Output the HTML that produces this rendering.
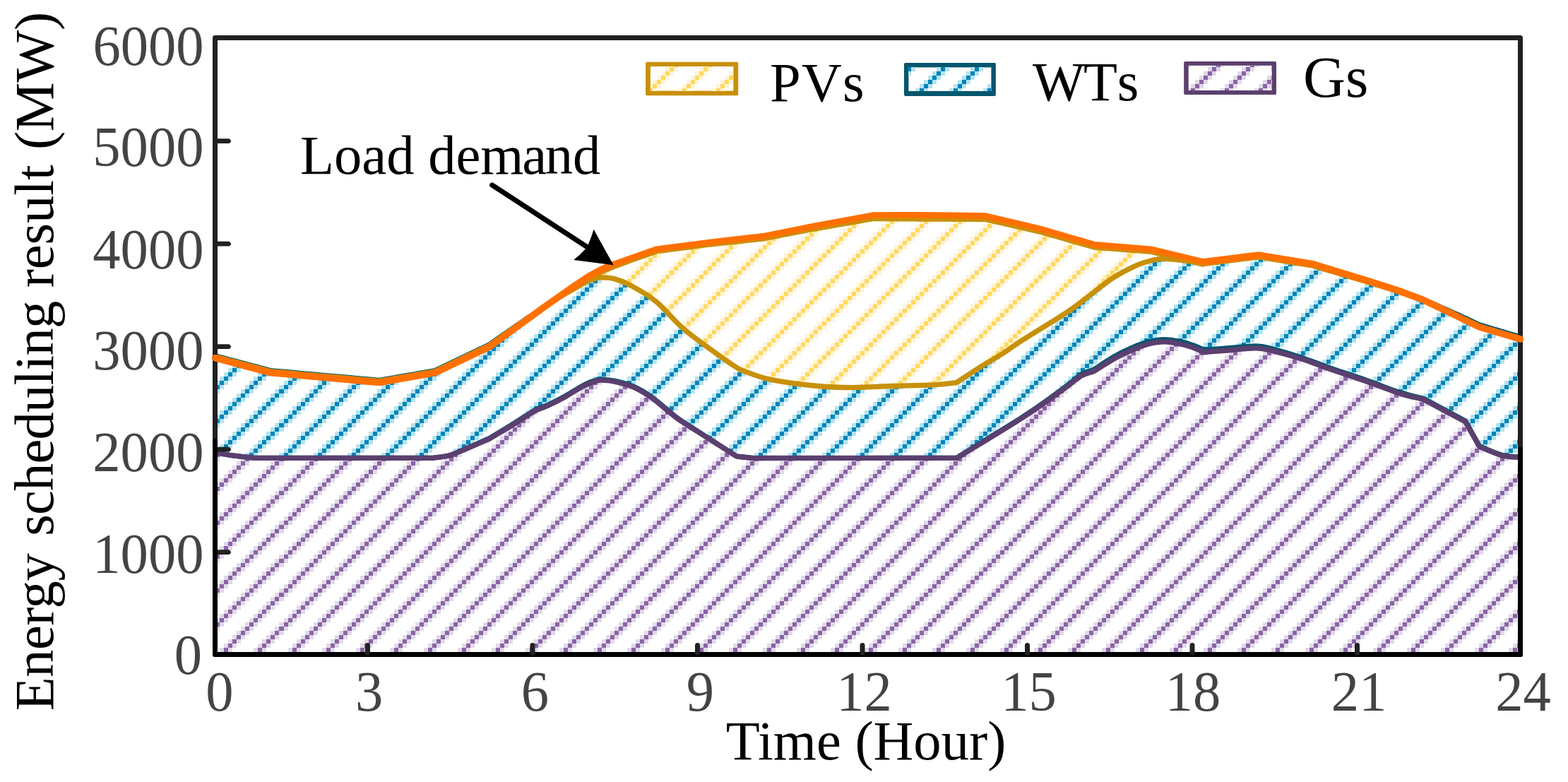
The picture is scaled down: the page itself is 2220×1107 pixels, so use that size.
<!DOCTYPE html>
<html lang="en">
<head>
<meta charset="utf-8">
<title>Energy scheduling result</title>
<style>
html,body{margin:0;padding:0;background:#fff;}
body{width:2220px;height:1107px;overflow:hidden;}
svg{display:block;}
</style>
</head>
<body>
<svg width="2220" height="1107" viewBox="0 0 2220 1107" role="img" aria-label="Energy scheduling result over 24 hours">
<defs>
<pattern id="hp" x="0" y="5" width="48" height="48" patternUnits="userSpaceOnUse">
<rect x="24" y="0" width="6" height="6" fill="#E1D9E9"/><rect x="30" y="0" width="6" height="6" fill="#8A64A6"/><rect x="36" y="0" width="6" height="6" fill="#E1D9E9"/>
<rect x="18" y="6" width="6" height="6" fill="#E1D9E9"/><rect x="24" y="6" width="6" height="6" fill="#8A64A6"/><rect x="30" y="6" width="6" height="6" fill="#E1D9E9"/>
<rect x="12" y="12" width="6" height="6" fill="#E1D9E9"/><rect x="18" y="12" width="6" height="6" fill="#8A64A6"/><rect x="24" y="12" width="6" height="6" fill="#E1D9E9"/>
<rect x="6" y="18" width="6" height="6" fill="#E1D9E9"/><rect x="12" y="18" width="6" height="6" fill="#8A64A6"/><rect x="18" y="18" width="6" height="6" fill="#E1D9E9"/>
<rect x="0" y="24" width="6" height="6" fill="#E1D9E9"/><rect x="6" y="24" width="6" height="6" fill="#8A64A6"/><rect x="12" y="24" width="6" height="6" fill="#E1D9E9"/>
<rect x="0" y="30" width="6" height="6" fill="#8A64A6"/><rect x="6" y="30" width="6" height="6" fill="#E1D9E9"/><rect x="42" y="30" width="6" height="6" fill="#E1D9E9"/>
<rect x="0" y="36" width="6" height="6" fill="#E1D9E9"/><rect x="36" y="36" width="6" height="6" fill="#E1D9E9"/><rect x="42" y="36" width="6" height="6" fill="#8A64A6"/>
<rect x="30" y="42" width="6" height="6" fill="#E1D9E9"/><rect x="36" y="42" width="6" height="6" fill="#8A64A6"/><rect x="42" y="42" width="6" height="6" fill="#E1D9E9"/>
</pattern>

<pattern id="hb" x="0" y="5" width="48" height="48" patternUnits="userSpaceOnUse">
<rect x="24" y="0" width="6" height="6" fill="#B4E3EF"/><rect x="30" y="0" width="6" height="6" fill="#0484B9"/><rect x="36" y="0" width="6" height="6" fill="#B4E3EF"/>
<rect x="18" y="6" width="6" height="6" fill="#B4E3EF"/><rect x="24" y="6" width="6" height="6" fill="#0484B9"/><rect x="30" y="6" width="6" height="6" fill="#B4E3EF"/>
<rect x="12" y="12" width="6" height="6" fill="#B4E3EF"/><rect x="18" y="12" width="6" height="6" fill="#0484B9"/><rect x="24" y="12" width="6" height="6" fill="#B4E3EF"/>
<rect x="6" y="18" width="6" height="6" fill="#B4E3EF"/><rect x="12" y="18" width="6" height="6" fill="#0484B9"/><rect x="18" y="18" width="6" height="6" fill="#B4E3EF"/>
<rect x="0" y="24" width="6" height="6" fill="#B4E3EF"/><rect x="6" y="24" width="6" height="6" fill="#0484B9"/><rect x="12" y="24" width="6" height="6" fill="#B4E3EF"/>
<rect x="0" y="30" width="6" height="6" fill="#0484B9"/><rect x="6" y="30" width="6" height="6" fill="#B4E3EF"/><rect x="42" y="30" width="6" height="6" fill="#B4E3EF"/>
<rect x="0" y="36" width="6" height="6" fill="#B4E3EF"/><rect x="36" y="36" width="6" height="6" fill="#B4E3EF"/><rect x="42" y="36" width="6" height="6" fill="#0484B9"/>
<rect x="30" y="42" width="6" height="6" fill="#B4E3EF"/><rect x="36" y="42" width="6" height="6" fill="#0484B9"/><rect x="42" y="42" width="6" height="6" fill="#B4E3EF"/>
</pattern>

<pattern id="hy" x="0" y="5" width="48" height="48" patternUnits="userSpaceOnUse">
<rect x="24" y="0" width="6" height="6" fill="#FFF4D9"/><rect x="30" y="0" width="6" height="6" fill="#FFD85E"/><rect x="36" y="0" width="6" height="6" fill="#FFF4D9"/>
<rect x="18" y="6" width="6" height="6" fill="#FFF4D9"/><rect x="24" y="6" width="6" height="6" fill="#FFD85E"/><rect x="30" y="6" width="6" height="6" fill="#FFF4D9"/>
<rect x="12" y="12" width="6" height="6" fill="#FFF4D9"/><rect x="18" y="12" width="6" height="6" fill="#FFD85E"/><rect x="24" y="12" width="6" height="6" fill="#FFF4D9"/>
<rect x="6" y="18" width="6" height="6" fill="#FFF4D9"/><rect x="12" y="18" width="6" height="6" fill="#FFD85E"/><rect x="18" y="18" width="6" height="6" fill="#FFF4D9"/>
<rect x="0" y="24" width="6" height="6" fill="#FFF4D9"/><rect x="6" y="24" width="6" height="6" fill="#FFD85E"/><rect x="12" y="24" width="6" height="6" fill="#FFF4D9"/>
<rect x="0" y="30" width="6" height="6" fill="#FFD85E"/><rect x="6" y="30" width="6" height="6" fill="#FFF4D9"/><rect x="42" y="30" width="6" height="6" fill="#FFF4D9"/>
<rect x="0" y="36" width="6" height="6" fill="#FFF4D9"/><rect x="36" y="36" width="6" height="6" fill="#FFF4D9"/><rect x="42" y="36" width="6" height="6" fill="#FFD85E"/>
<rect x="30" y="42" width="6" height="6" fill="#FFF4D9"/><rect x="36" y="42" width="6" height="6" fill="#FFD85E"/><rect x="42" y="42" width="6" height="6" fill="#FFF4D9"/>
</pattern>

<pattern id="hpL" x="-1" y="5" width="48" height="48" patternUnits="userSpaceOnUse">
<rect x="24" y="0" width="6" height="6" fill="#E1D9E9"/><rect x="30" y="0" width="6" height="6" fill="#8A64A6"/><rect x="36" y="0" width="6" height="6" fill="#E1D9E9"/>
<rect x="18" y="6" width="6" height="6" fill="#E1D9E9"/><rect x="24" y="6" width="6" height="6" fill="#8A64A6"/><rect x="30" y="6" width="6" height="6" fill="#E1D9E9"/>
<rect x="12" y="12" width="6" height="6" fill="#E1D9E9"/><rect x="18" y="12" width="6" height="6" fill="#8A64A6"/><rect x="24" y="12" width="6" height="6" fill="#E1D9E9"/>
<rect x="6" y="18" width="6" height="6" fill="#E1D9E9"/><rect x="12" y="18" width="6" height="6" fill="#8A64A6"/><rect x="18" y="18" width="6" height="6" fill="#E1D9E9"/>
<rect x="0" y="24" width="6" height="6" fill="#E1D9E9"/><rect x="6" y="24" width="6" height="6" fill="#8A64A6"/><rect x="12" y="24" width="6" height="6" fill="#E1D9E9"/>
<rect x="0" y="30" width="6" height="6" fill="#8A64A6"/><rect x="6" y="30" width="6" height="6" fill="#E1D9E9"/><rect x="42" y="30" width="6" height="6" fill="#E1D9E9"/>
<rect x="0" y="36" width="6" height="6" fill="#E1D9E9"/><rect x="36" y="36" width="6" height="6" fill="#E1D9E9"/><rect x="42" y="36" width="6" height="6" fill="#8A64A6"/>
<rect x="30" y="42" width="6" height="6" fill="#E1D9E9"/><rect x="36" y="42" width="6" height="6" fill="#8A64A6"/><rect x="42" y="42" width="6" height="6" fill="#E1D9E9"/>
</pattern>

<pattern id="hbL" x="-1" y="5" width="48" height="48" patternUnits="userSpaceOnUse">
<rect x="24" y="0" width="6" height="6" fill="#B4E3EF"/><rect x="30" y="0" width="6" height="6" fill="#0484B9"/><rect x="36" y="0" width="6" height="6" fill="#B4E3EF"/>
<rect x="18" y="6" width="6" height="6" fill="#B4E3EF"/><rect x="24" y="6" width="6" height="6" fill="#0484B9"/><rect x="30" y="6" width="6" height="6" fill="#B4E3EF"/>
<rect x="12" y="12" width="6" height="6" fill="#B4E3EF"/><rect x="18" y="12" width="6" height="6" fill="#0484B9"/><rect x="24" y="12" width="6" height="6" fill="#B4E3EF"/>
<rect x="6" y="18" width="6" height="6" fill="#B4E3EF"/><rect x="12" y="18" width="6" height="6" fill="#0484B9"/><rect x="18" y="18" width="6" height="6" fill="#B4E3EF"/>
<rect x="0" y="24" width="6" height="6" fill="#B4E3EF"/><rect x="6" y="24" width="6" height="6" fill="#0484B9"/><rect x="12" y="24" width="6" height="6" fill="#B4E3EF"/>
<rect x="0" y="30" width="6" height="6" fill="#0484B9"/><rect x="6" y="30" width="6" height="6" fill="#B4E3EF"/><rect x="42" y="30" width="6" height="6" fill="#B4E3EF"/>
<rect x="0" y="36" width="6" height="6" fill="#B4E3EF"/><rect x="36" y="36" width="6" height="6" fill="#B4E3EF"/><rect x="42" y="36" width="6" height="6" fill="#0484B9"/>
<rect x="30" y="42" width="6" height="6" fill="#B4E3EF"/><rect x="36" y="42" width="6" height="6" fill="#0484B9"/><rect x="42" y="42" width="6" height="6" fill="#B4E3EF"/>
</pattern>

<clipPath id="cl"><rect x="0" y="0" width="396" height="1107"/></clipPath>
<clipPath id="cr"><rect x="396" y="0" width="1824" height="1107"/></clipPath>
</defs>
<rect width="2220" height="1107" fill="#fff"/>
<g shape-rendering="crispEdges" stroke="none" clip-path="url(#cr)">
<polygon points="304.5,926.5 304.5,640.2 308.4,641.0 312.2,641.7 316.0,642.5 319.9,643.3 324.0,644.0 328.5,644.7 333.4,645.4 338.7,646.0 344.2,646.6 349.9,647.1 355.5,647.7 361.0,648.3 403.0,648.3 445.0,648.3 487.0,648.3 529.0,648.3 571.0,648.3 613.0,648.3 616.9,647.8 620.7,647.3 624.6,646.9 628.5,646.4 632.4,645.7 636.3,644.7 640.2,643.5 644.1,642.1 647.9,640.5 651.9,638.8 656.2,636.9 660.7,635.0 665.6,632.9 670.9,630.7 676.4,628.3 682.1,625.9 687.7,623.5 693.2,621.1 698.6,617.9 704.0,614.6 709.4,611.4 714.9,608.2 720.3,604.9 725.7,601.6 731.3,598.1 737.1,594.4 743.0,590.6 748.6,587.1 753.7,583.9 758.2,581.3 761.4,579.7 764.0,578.6 766.4,577.8 768.8,577.0 771.4,576.1 774.5,574.8 778.1,573.1 782.0,571.2 786.2,569.2 790.5,567.1 794.7,564.8 798.9,562.6 803.1,560.2 807.3,557.6 811.6,555.0 815.8,552.4 819.7,550.0 823.3,548.0 826.5,546.3 829.5,544.8 832.2,543.6 834.8,542.5 837.2,541.6 839.5,540.7 841.6,539.9 843.3,539.3 844.9,538.8 846.6,538.5 848.5,538.3 850.9,538.2 853.8,538.3 857.1,538.5 860.6,538.8 864.4,539.3 868.2,539.9 872.0,540.7 875.9,541.6 879.9,542.5 884.0,543.6 888.1,544.9 892.3,546.4 896.4,548.0 900.5,549.9 904.5,551.9 908.6,554.1 912.7,556.5 916.7,559.1 920.8,561.8 925.0,564.8 929.2,568.1 933.5,571.6 937.7,575.1 941.6,578.4 945.2,581.3 948.2,583.8 950.7,585.9 953.0,587.8 955.3,589.8 958.0,591.9 961.5,594.3 966.7,597.7 972.8,601.6 979.5,605.9 986.6,610.3 993.7,614.8 1000.7,619.2 1007.6,623.6 1014.5,628.0 1021.6,632.5 1028.7,637.0 1035.8,641.5 1042.9,646.0 1046.7,646.4 1050.5,646.8 1054.3,647.2 1058.1,647.7 1061.9,648.1 1065.7,648.5 1113.8,648.5 1162.0,648.4 1210.1,648.4 1258.2,648.4 1306.4,648.3 1354.5,648.3 1361.6,644.0 1368.7,639.8 1375.7,635.6 1382.8,631.3 1390.1,626.9 1397.6,622.3 1405.6,617.4 1414.0,612.3 1422.6,607.0 1431.1,601.8 1439.1,596.8 1446.3,592.2 1452.7,588.1 1458.4,584.3 1463.6,580.8 1468.6,577.3 1473.7,573.9 1478.9,570.2 1484.5,566.3 1490.2,562.2 1496.0,558.0 1501.5,553.9 1506.7,550.1 1511.4,546.7 1515.4,543.6 1518.9,540.8 1522.1,538.3 1525.0,536.0 1527.9,533.9 1530.9,532.0 1534.0,530.4 1537.0,529.2 1540.0,528.2 1542.9,527.4 1545.8,526.5 1548.8,525.5 1553.4,522.6 1558.1,519.7 1562.8,516.7 1567.4,513.8 1572.0,511.1 1576.4,508.5 1580.7,506.2 1584.8,504.0 1588.8,501.9 1592.8,500.0 1596.8,498.1 1600.8,496.3 1604.9,494.6 1609.0,492.9 1613.1,491.2 1617.2,489.8 1621.2,488.4 1625.2,487.3 1629.1,486.3 1632.9,485.5 1636.8,484.8 1640.6,484.3 1644.4,484.0 1648.3,483.9 1652.4,484.0 1656.6,484.4 1660.9,485.0 1665.1,485.7 1669.1,486.5 1672.7,487.2 1675.9,487.9 1678.7,488.6 1681.3,489.4 1683.7,490.2 1686.2,491.1 1688.8,492.0 1691.5,493.0 1694.2,494.0 1696.9,495.1 1699.6,496.3 1702.3,497.4 1705.0,498.5 1710.3,498.1 1715.6,497.7 1720.8,497.4 1726.1,497.0 1731.7,496.6 1737.6,496.1 1744.1,495.5 1751.1,494.8 1758.4,494.0 1765.6,493.4 1772.3,492.9 1778.2,492.8 1783.0,493.0 1786.9,493.3 1790.4,493.9 1793.9,494.7 1797.8,495.7 1802.6,496.9 1808.4,498.3 1815.0,500.0 1821.9,501.9 1829.1,504.0 1836.3,506.1 1843.3,508.3 1850.0,510.5 1856.5,512.9 1863.1,515.3 1869.8,517.8 1876.7,520.3 1883.9,522.9 1891.5,525.5 1899.5,528.1 1907.7,530.8 1916.0,533.6 1924.4,536.4 1932.7,539.2 1941.2,542.2 1949.9,545.4 1958.7,548.7 1967.2,551.9 1975.3,554.8 1982.6,557.2 1989.0,559.1 1994.7,560.6 1999.9,561.9 2004.9,563.0 2009.9,564.1 2015.1,565.3 2025.0,570.6 2035.0,575.9 2044.9,581.1 2054.8,586.4 2064.8,591.7 2074.7,597.0 2078.0,602.9 2081.3,608.8 2084.6,614.6 2088.0,620.5 2091.3,626.4 2094.6,632.3 2100.1,634.5 2105.7,636.9 2111.3,639.2 2116.8,641.4 2122.1,643.4 2127.1,644.9 2131.7,645.9 2136.1,646.5 2140.2,646.9 2144.3,647.1 2148.3,647.3 2152.5,647.6 2152.5,926.5" fill="url(#hp)"/>
<polygon points="304.5,506.7 382.7,527.6 537.2,541.5 616.0,527.6 693.3,490.7 732.5,462.2 771.4,434.0 795.0,418.8 797.8,417.2 800.6,415.7 803.4,414.1 806.3,412.5 809.1,410.9 812.0,409.3 815.0,407.6 818.1,405.7 821.3,403.8 824.4,402.0 827.3,400.4 830.0,399.0 832.4,397.9 834.6,397.0 836.7,396.2 838.6,395.6 840.3,395.0 842.0,394.5 843.4,394.0 844.6,393.6 845.6,393.3 846.6,393.0 847.8,392.9 849.3,392.8 851.8,392.8 854.7,392.8 858.0,392.9 861.5,393.1 865.1,393.6 868.8,394.4 872.5,395.4 876.2,396.5 880.0,397.9 884.0,399.6 888.4,401.6 893.2,404.1 898.5,407.0 904.2,410.2 910.2,413.8 916.5,417.7 922.7,422.1 928.9,426.9 935.0,432.4 941.1,438.5 947.3,445.1 953.5,451.8 959.9,458.3 966.3,464.3 972.9,469.9 979.7,475.3 986.6,480.5 993.6,485.5 1000.4,490.4 1007.0,495.2 1013.7,500.0 1020.5,504.9 1027.3,509.7 1033.7,514.2 1039.5,518.0 1044.4,521.2 1047.3,522.9 1049.7,524.2 1051.9,525.1 1054.2,525.9 1056.8,526.7 1060.0,527.8 1064.1,529.3 1068.6,530.9 1073.6,532.6 1079.1,534.4 1085.4,536.1 1092.5,537.6 1101.7,539.2 1112.4,540.9 1124.0,542.5 1135.9,544.1 1147.3,545.4 1157.6,546.5 1166.6,547.3 1174.7,547.9 1182.5,548.2 1190.1,548.5 1197.9,548.6 1206.3,548.6 1215.3,548.5 1224.7,548.2 1234.3,547.8 1244.0,547.3 1253.7,546.9 1263.3,546.5 1273.1,546.2 1283.1,546.0 1293.2,545.8 1302.9,545.5 1312.0,545.3 1320.2,544.9 1327.2,544.4 1333.3,543.9 1338.7,543.4 1343.8,542.8 1348.9,542.2 1354.3,541.6 1359.4,538.2 1364.5,534.9 1369.5,531.5 1374.6,528.1 1379.8,524.7 1385.2,521.3 1390.9,517.8 1396.9,514.2 1403.0,510.5 1409.0,507.0 1414.7,503.5 1420.0,500.2 1424.5,497.2 1428.3,494.6 1431.9,492.1 1435.6,489.4 1439.8,486.5 1445.0,483.1 1453.9,477.5 1464.9,470.7 1477.1,463.2 1489.3,455.6 1500.7,448.5 1510.1,442.4 1517.1,437.7 1522.9,433.5 1528.0,429.6 1532.8,426.0 1537.5,422.3 1542.6,418.4 1548.0,414.3 1553.4,410.0 1558.9,405.7 1564.3,401.6 1569.7,397.6 1575.1,393.9 1580.6,390.5 1586.2,387.2 1591.9,384.1 1597.4,381.3 1602.7,378.7 1607.6,376.4 1612.2,374.4 1616.6,372.8 1620.8,371.4 1624.8,370.2 1628.5,369.2 1632.0,368.3 1635.1,367.6 1637.8,367.0 1640.3,366.7 1642.8,366.5 1645.4,366.3 1648.3,366.3 1651.6,366.4 1655.2,366.5 1659.0,366.8 1662.8,367.2 1666.5,367.6 1670.0,368.0 1673.4,368.4 1676.7,368.9 1679.9,369.3 1683.0,369.8 1686.1,370.4 1689.0,370.9 1691.8,371.4 1694.3,372.0 1696.8,372.6 1699.3,373.2 1701.7,373.8 1704.2,374.4 1782.3,361.1 1858.7,373.7 1940.0,398.6 1978.0,410.8 2014.5,424.3 2054.0,443.2 2094.1,462.8 2152.5,480.0 2152.5,647.6 2148.3,647.3 2144.3,647.1 2140.2,646.9 2136.1,646.5 2131.7,645.9 2127.1,644.9 2122.1,643.4 2116.8,641.4 2111.3,639.2 2105.7,636.9 2100.1,634.5 2094.6,632.3 2091.3,626.4 2088.0,620.5 2084.6,614.6 2081.3,608.8 2078.0,602.9 2074.7,597.0 2064.8,591.7 2054.8,586.4 2044.9,581.1 2035.0,575.9 2025.0,570.6 2015.1,565.3 2009.9,564.1 2004.9,563.0 1999.9,561.9 1994.7,560.6 1989.0,559.1 1982.6,557.2 1975.3,554.8 1967.2,551.9 1958.7,548.7 1949.9,545.4 1941.2,542.2 1932.7,539.2 1924.4,536.4 1916.0,533.6 1907.7,530.8 1899.5,528.1 1891.5,525.5 1883.9,522.9 1876.7,520.3 1869.8,517.8 1863.1,515.3 1856.5,512.9 1850.0,510.5 1843.3,508.3 1836.3,506.1 1829.1,504.0 1821.9,501.9 1815.0,500.0 1808.4,498.3 1802.6,496.9 1797.8,495.7 1793.9,494.7 1790.4,493.9 1786.9,493.3 1783.0,493.0 1778.2,492.8 1772.3,492.9 1765.6,493.4 1758.4,494.0 1751.1,494.8 1744.1,495.5 1737.6,496.1 1731.7,496.6 1726.1,497.0 1720.8,497.4 1715.6,497.7 1710.3,498.1 1705.0,498.5 1702.3,497.4 1699.6,496.3 1696.9,495.1 1694.2,494.0 1691.5,493.0 1688.8,492.0 1686.2,491.1 1683.7,490.2 1681.3,489.4 1678.7,488.6 1675.9,487.9 1672.7,487.2 1669.1,486.5 1665.1,485.7 1660.9,485.0 1656.6,484.4 1652.4,484.0 1648.3,483.9 1644.4,484.0 1640.6,484.3 1636.8,484.8 1632.9,485.5 1629.1,486.3 1625.2,487.3 1621.2,488.4 1617.2,489.8 1613.1,491.2 1609.0,492.9 1604.9,494.6 1600.8,496.3 1596.8,498.1 1592.8,500.0 1588.8,501.9 1584.8,504.0 1580.7,506.2 1576.4,508.5 1572.0,511.1 1567.4,513.8 1562.8,516.7 1558.1,519.7 1553.4,522.6 1548.8,525.5 1545.8,526.5 1542.9,527.4 1540.0,528.2 1537.0,529.2 1534.0,530.4 1530.9,532.0 1527.9,533.9 1525.0,536.0 1522.1,538.3 1518.9,540.8 1515.4,543.6 1511.4,546.7 1506.7,550.1 1501.5,553.9 1496.0,558.0 1490.2,562.2 1484.5,566.3 1478.9,570.2 1473.7,573.9 1468.6,577.3 1463.6,580.8 1458.4,584.3 1452.7,588.1 1446.3,592.2 1439.1,596.8 1431.1,601.8 1422.6,607.0 1414.0,612.3 1405.6,617.4 1397.6,622.3 1390.1,626.9 1382.8,631.3 1375.7,635.6 1368.7,639.8 1361.6,644.0 1354.5,648.3 1306.4,648.3 1258.2,648.4 1210.1,648.4 1162.0,648.4 1113.8,648.5 1065.7,648.5 1061.9,648.1 1058.1,647.7 1054.3,647.2 1050.5,646.8 1046.7,646.4 1042.9,646.0 1035.8,641.5 1028.7,637.0 1021.6,632.5 1014.5,628.0 1007.6,623.6 1000.7,619.2 993.7,614.8 986.6,610.3 979.5,605.9 972.8,601.6 966.7,597.7 961.5,594.3 958.0,591.9 955.3,589.8 953.0,587.8 950.7,585.9 948.2,583.8 945.2,581.3 941.6,578.4 937.7,575.1 933.5,571.6 929.2,568.1 925.0,564.8 920.8,561.8 916.7,559.1 912.7,556.5 908.6,554.1 904.5,551.9 900.5,549.9 896.4,548.0 892.3,546.4 888.1,544.9 884.0,543.6 879.9,542.5 875.9,541.6 872.0,540.7 868.2,539.9 864.4,539.3 860.6,538.8 857.1,538.5 853.8,538.3 850.9,538.2 848.5,538.3 846.6,538.5 844.9,538.8 843.3,539.3 841.6,539.9 839.5,540.7 837.2,541.6 834.8,542.5 832.2,543.6 829.5,544.8 826.5,546.3 823.3,548.0 819.7,550.0 815.8,552.4 811.6,555.0 807.3,557.6 803.1,560.2 798.9,562.6 794.7,564.8 790.5,567.1 786.2,569.2 782.0,571.2 778.1,573.1 774.5,574.8 771.4,576.1 768.8,577.0 766.4,577.8 764.0,578.6 761.4,579.7 758.2,581.3 753.7,583.9 748.6,587.1 743.0,590.6 737.1,594.4 731.3,598.1 725.7,601.6 720.3,604.9 714.9,608.2 709.4,611.4 704.0,614.6 698.6,617.9 693.2,621.1 687.7,623.5 682.1,625.9 676.4,628.3 670.9,630.7 665.6,632.9 660.7,635.0 656.2,636.9 651.9,638.8 647.9,640.5 644.1,642.1 640.2,643.5 636.3,644.7 632.4,645.7 628.5,646.4 624.6,646.9 620.7,647.3 616.9,647.8 613.0,648.3 571.0,648.3 529.0,648.3 487.0,648.3 445.0,648.3 403.0,648.3 361.0,648.3 355.5,647.7 349.9,647.1 344.2,646.6 338.7,646.0 333.4,645.4 328.5,644.7 324.0,644.0 319.9,643.3 316.0,642.5 312.2,641.7 308.4,641.0 304.5,640.2" fill="url(#hb)"/>
<polygon points="795.0,417.0 810.0,407.0 835.0,390.3 851.0,381.6 868.0,374.4 929.3,352.9 1005.0,343.0 1080.5,334.4 1150.0,320.4 1237.0,304.5 1300.0,304.3 1348.5,304.9 1395.6,305.7 1472.0,323.8 1550.0,346.4 1629.4,352.8 1704.2,370.8 1704.2,374.4 1701.7,373.8 1699.3,373.2 1696.8,372.6 1694.3,372.0 1691.8,371.4 1689.0,370.9 1686.1,370.4 1683.0,369.8 1679.9,369.3 1676.7,368.9 1673.4,368.4 1670.0,368.0 1666.5,367.6 1662.8,367.2 1659.0,366.8 1655.2,366.5 1651.6,366.4 1648.3,366.3 1645.4,366.3 1642.8,366.5 1640.3,366.7 1637.8,367.0 1635.1,367.6 1632.0,368.3 1628.5,369.2 1624.8,370.2 1620.8,371.4 1616.6,372.8 1612.2,374.4 1607.6,376.4 1602.7,378.7 1597.4,381.3 1591.9,384.1 1586.2,387.2 1580.6,390.5 1575.1,393.9 1569.7,397.6 1564.3,401.6 1558.9,405.7 1553.4,410.0 1548.0,414.3 1542.6,418.4 1537.5,422.3 1532.8,426.0 1528.0,429.6 1522.9,433.5 1517.1,437.7 1510.1,442.4 1500.7,448.5 1489.3,455.6 1477.1,463.2 1464.9,470.7 1453.9,477.5 1445.0,483.1 1439.8,486.5 1435.6,489.4 1431.9,492.1 1428.3,494.6 1424.5,497.2 1420.0,500.2 1414.7,503.5 1409.0,507.0 1403.0,510.5 1396.9,514.2 1390.9,517.8 1385.2,521.3 1379.8,524.7 1374.6,528.1 1369.5,531.5 1364.5,534.9 1359.4,538.2 1354.3,541.6 1348.9,542.2 1343.8,542.8 1338.7,543.4 1333.3,543.9 1327.2,544.4 1320.2,544.9 1312.0,545.3 1302.9,545.5 1293.2,545.8 1283.1,546.0 1273.1,546.2 1263.3,546.5 1253.7,546.9 1244.0,547.3 1234.3,547.8 1224.7,548.2 1215.3,548.5 1206.3,548.6 1197.9,548.6 1190.1,548.5 1182.5,548.2 1174.7,547.9 1166.6,547.3 1157.6,546.5 1147.3,545.4 1135.9,544.1 1124.0,542.5 1112.4,540.9 1101.7,539.2 1092.5,537.6 1085.4,536.1 1079.1,534.4 1073.6,532.6 1068.6,530.9 1064.1,529.3 1060.0,527.8 1056.8,526.7 1054.2,525.9 1051.9,525.1 1049.7,524.2 1047.3,522.9 1044.4,521.2 1039.5,518.0 1033.7,514.2 1027.3,509.7 1020.5,504.9 1013.7,500.0 1007.0,495.2 1000.4,490.4 993.6,485.5 986.6,480.5 979.7,475.3 972.9,469.9 966.3,464.3 959.9,458.3 953.5,451.8 947.3,445.1 941.1,438.5 935.0,432.4 928.9,426.9 922.7,422.1 916.5,417.7 910.2,413.8 904.2,410.2 898.5,407.0 893.2,404.1 888.4,401.6 884.0,399.6 880.0,397.9 876.2,396.5 872.5,395.4 868.8,394.4 865.1,393.6 861.5,393.1 858.0,392.9 854.7,392.8 851.8,392.8 849.3,392.8 847.8,392.9 846.6,393.0 845.6,393.3 844.6,393.6 843.4,394.0 842.0,394.5 840.3,395.0 838.6,395.6 836.7,396.2 834.6,397.0 832.4,397.9 830.0,399.0 827.3,400.4 824.4,402.0 821.3,403.8 818.1,405.7 815.0,407.6 812.0,409.3 809.1,410.9 806.3,412.5 803.4,414.1 800.6,415.7 797.8,417.2 795.0,418.8" fill="url(#hy)"/>
</g>
<g shape-rendering="crispEdges" stroke="none" clip-path="url(#cl)">
<polygon points="304.5,926.5 304.5,640.2 308.4,641.0 312.2,641.7 316.0,642.5 319.9,643.3 324.0,644.0 328.5,644.7 333.4,645.4 338.7,646.0 344.2,646.6 349.9,647.1 355.5,647.7 361.0,648.3 403.0,648.3 445.0,648.3 487.0,648.3 529.0,648.3 571.0,648.3 613.0,648.3 616.9,647.8 620.7,647.3 624.6,646.9 628.5,646.4 632.4,645.7 636.3,644.7 640.2,643.5 644.1,642.1 647.9,640.5 651.9,638.8 656.2,636.9 660.7,635.0 665.6,632.9 670.9,630.7 676.4,628.3 682.1,625.9 687.7,623.5 693.2,621.1 698.6,617.9 700.0,926.5" fill="url(#hpL)"/>
<polygon points="304.5,506.7 382.7,527.6 537.2,541.5 616.0,527.6 693.3,490.7 698.6,617.9 693.2,621.1 687.7,623.5 682.1,625.9 676.4,628.3 670.9,630.7 665.6,632.9 660.7,635.0 656.2,636.9 651.9,638.8 647.9,640.5 644.1,642.1 640.2,643.5 636.3,644.7 632.4,645.7 628.5,646.4 624.6,646.9 620.7,647.3 616.9,647.8 613.0,648.3 571.0,648.3 529.0,648.3 487.0,648.3 445.0,648.3 403.0,648.3 361.0,648.3 355.5,647.7 349.9,647.1 344.2,646.6 338.7,646.0 333.4,645.4 328.5,644.7 324.0,644.0 319.9,643.3 316.0,642.5 312.2,641.7 308.4,641.0 304.5,640.2" fill="url(#hbL)"/>
</g>
<path d="M304.5,640.2C312.5,641.7 319.1,643.4 328.5,644.7C337.9,646.1 350.2,647.1 361.0,648.3C445.0,648.3 529.0,648.3 613.0,648.3C620.8,647.1 628.3,647.0 636.3,644.7C644.2,642.4 651.2,638.7 660.7,634.7C670.2,630.6 682.4,625.0 693.2,620.2C704.0,613.6 714.9,607.2 725.7,600.5C736.5,593.8 750.1,584.6 758.2,580.1C765.2,576.3 767.7,576.7 774.5,573.6C781.3,570.4 790.8,565.8 798.9,561.3C807.0,556.8 816.5,550.4 823.3,546.7C830.1,543.0 834.9,541.0 839.5,539.4C844.1,537.8 845.6,536.9 850.9,536.9C856.3,536.9 864.4,537.8 872.0,539.4C879.6,541.0 888.3,543.2 896.4,546.7C904.5,550.2 912.7,555.0 920.8,560.6C928.9,566.2 938.4,574.8 945.2,580.3C952.0,585.8 953.7,588.0 961.5,593.4C970.8,599.8 987.1,610.0 1000.7,618.7C1014.3,627.5 1028.8,636.9 1042.9,646.0C1050.5,646.8 1058.1,647.7 1065.7,648.5C1162.0,648.4 1258.2,648.4 1354.5,648.3C1368.9,639.3 1382.3,630.9 1397.6,621.4C1412.9,611.8 1432.8,599.8 1446.3,591.1C1459.8,582.4 1468.1,576.7 1478.9,569.0C1489.8,561.4 1502.7,551.7 1511.4,545.2C1520.1,538.7 1524.7,533.6 1530.9,529.9C1537.1,526.2 1542.8,525.3 1548.8,522.9C1558.0,517.0 1567.7,510.2 1576.4,505.2C1585.1,500.2 1592.7,496.4 1600.8,492.9C1608.9,489.4 1617.3,486.0 1625.2,483.9C1633.1,481.8 1640.4,480.5 1648.3,480.5C1656.2,480.5 1666.0,482.4 1672.7,483.8C1679.5,485.2 1683.4,486.7 1688.8,488.6C1694.2,490.5 1699.6,492.9 1705.0,495.1C1715.9,494.4 1725.4,493.7 1737.6,492.8C1749.8,491.9 1767.4,489.5 1778.2,489.7C1789.0,489.9 1791.8,491.3 1802.6,494.1C1813.4,496.8 1829.8,501.8 1843.3,506.3C1856.8,510.8 1869.0,515.9 1883.9,521.1C1898.8,526.3 1916.2,531.8 1932.7,537.5C1949.2,543.3 1968.9,551.3 1982.6,555.7C1996.3,560.0 2004.3,561.1 2015.1,563.9C2035.0,574.5 2054.8,585.2 2074.7,595.8C2081.3,607.7 2088.0,619.6 2094.6,631.5C2105.4,635.8 2117.4,641.7 2127.1,644.3C2136.8,646.9 2144.0,646.2 2152.5,647.1" fill="none" stroke-linejoin="round" stroke-linecap="butt" stroke="#06566E" stroke-width="7"/>
<polyline points="304.5,503.5 310.5,505.1 316.5,506.7 322.5,508.3 328.5,509.9 334.5,511.5 340.5,513.1 346.5,514.7 352.5,516.3 358.5,517.9 364.5,519.5 370.5,521.1 376.5,522.7 382.5,524.3 382.7,524.4 388.5,524.9 394.5,525.5 400.5,526.0 406.5,526.5 412.5,527.1 418.5,527.6 424.5,528.2 430.5,528.7 436.5,529.2 442.5,529.8 448.5,530.3 454.5,530.9 460.5,531.4 466.5,531.9 472.5,532.5 478.5,533.0 484.5,533.6 490.5,534.1 496.5,534.6 502.5,535.2 508.5,535.7 514.5,536.3 520.5,536.8 526.5,537.3 532.5,537.9 537.2,538.3 538.5,538.1 544.5,537.0 550.5,536.0 556.5,534.9 562.5,533.8 568.5,532.8 574.5,531.7 580.5,530.7 586.5,529.6 592.5,528.5 598.5,527.5 604.5,526.4 610.5,525.4 616.0,524.4 616.5,524.2 622.5,521.3 628.5,518.4 634.5,515.6 640.5,512.7 646.5,509.8 652.5,507.0 658.5,504.1 664.5,501.2 670.5,498.4 676.5,495.5 682.5,492.7 688.5,489.8 693.3,487.5 694.5,486.6 700.5,482.3 706.5,478.1 712.5,474.0 718.5,469.8 724.5,465.6 730.5,461.5 732.5,460.1 736.5,457.3 742.5,453.2 750.0,448.0" fill="none" stroke-linejoin="round" stroke-linecap="butt" stroke="#06566E" stroke-width="7"/>
<polyline points="2030.0,430.2 2036.0,432.9 2042.0,435.6 2048.0,438.2 2054.0,440.9 2060.0,443.6 2066.0,446.3 2072.0,449.1 2078.0,451.8 2084.0,454.7 2090.0,457.6 2094.1,459.6 2096.0,460.2 2102.0,461.9 2108.0,463.7 2114.0,465.5 2120.0,467.2 2126.0,469.0 2132.0,470.8 2138.0,472.5 2144.0,474.3 2152.5,476.8" fill="none" stroke-linejoin="round" stroke-linecap="butt" stroke="#06566E" stroke-width="7"/>
<polyline points="304.5,504.5 310.5,506.1 316.5,507.7 322.5,509.3 328.5,510.9 334.5,512.5 340.5,514.1 346.5,515.7 352.5,517.3 358.5,518.9 364.5,520.5 370.5,522.1 376.5,523.7 382.5,525.3 382.7,525.4 388.5,525.9 394.5,526.5 400.5,527.0 406.5,527.5 412.5,528.1 418.5,528.6 424.5,529.2 430.5,529.7 436.5,530.2 442.5,530.8 448.5,531.3 454.5,531.9 460.5,532.4 466.5,532.9 472.5,533.5 478.5,534.0 484.5,534.6 490.5,535.1 496.5,535.6 502.5,536.2 508.5,536.7 514.5,537.3 520.5,537.8 526.5,538.3 532.5,538.9 537.2,539.3 538.5,539.1 544.5,538.0 550.5,537.0 556.5,535.9 562.5,534.8 568.5,533.8 574.5,532.7 580.5,531.7 586.5,530.6 592.5,529.5 598.5,528.5 604.5,527.4 610.5,526.4 616.0,525.4 616.5,525.2 622.5,522.3 628.5,519.4 634.5,516.6 640.5,513.7 646.5,510.8 652.5,508.0 658.5,505.1 664.5,502.2 670.5,499.4 676.5,496.5 682.5,493.7 688.5,490.8 693.3,488.5 694.5,487.6 700.5,483.3 706.5,479.1 712.5,474.8 718.5,470.6 724.5,466.4 730.5,462.2 732.5,460.8 736.5,458.0 742.5,453.8 750.0,448.5" fill="none" stroke-linejoin="round" stroke-linecap="butt" stroke="#C8900A" stroke-width="7"/>
<polyline points="780.0,428.5 786.0,424.7 792.0,420.9 798.0,417.1 804.0,413.3 810.0,409.5 816.0,405.9 822.0,402.3 828.0,398.7 834.0,394.8 835.0,394.2 840.0,391.4 846.0,388.1 851.0,385.3 852.0,384.9 858.0,382.3 864.0,379.7 868.0,378.0 870.0,377.3 876.0,375.1 882.0,372.9 888.0,370.7 894.0,368.5 900.0,366.3 906.0,364.2 912.0,362.1 918.0,360.0 924.0,357.9 929.3,356.0 930.0,355.9 936.0,355.1 942.0,354.4 948.0,353.6 954.0,352.8 960.0,352.0 966.0,351.2 972.0,350.5 978.0,349.7 984.0,348.9 990.0,348.1 996.0,347.3 1002.0,346.6 1005.0,346.2 1008.0,345.9 1014.0,345.2 1020.0,344.6 1026.0,343.9 1032.0,343.3 1038.0,342.7 1044.0,342.0 1050.0,341.4 1056.0,340.8 1062.0,340.1 1068.0,339.5 1074.0,338.8 1080.0,338.2 1080.5,338.1 1086.0,337.1 1092.0,335.9 1098.0,334.7 1104.0,333.6 1110.0,332.4 1116.0,331.2 1122.0,330.1 1128.0,328.9 1134.0,327.8 1140.0,326.6 1146.0,325.4 1150.0,324.6 1152.0,324.3 1158.0,323.3 1164.0,322.2 1170.0,321.2 1176.0,320.2 1182.0,319.1 1188.0,318.1 1194.0,317.1 1200.0,316.0 1206.0,315.0 1212.0,314.0 1218.0,312.9 1224.0,311.9 1230.0,310.9 1236.0,309.9 1237.0,309.7 1242.0,309.7 1248.0,309.8 1254.0,309.8 1260.0,309.9 1266.0,309.9 1272.0,309.9 1278.0,310.0 1284.0,310.0 1290.0,310.1 1296.0,310.1 1300.0,310.2 1302.0,310.2 1308.0,310.2 1314.0,310.2 1320.0,310.2 1326.0,310.3 1332.0,310.3 1338.0,310.3 1344.0,310.3 1348.5,310.4 1350.0,310.4 1356.0,310.4 1362.0,310.5 1368.0,310.5 1374.0,310.6 1380.0,310.6 1386.0,310.7 1392.0,310.7 1395.6,310.8 1398.0,311.3 1404.0,312.7 1410.0,314.1 1416.0,315.4 1422.0,316.8 1428.0,318.2 1434.0,319.5 1440.0,320.9 1446.0,322.3 1452.0,323.7 1458.0,325.0 1464.0,326.4 1470.0,327.8 1472.0,328.2 1476.0,329.4 1482.0,331.1 1488.0,332.8 1494.0,334.5 1500.0,336.2 1506.0,337.9 1512.0,339.6 1518.0,341.3 1524.0,343.0 1530.0,344.8 1536.0,346.5 1542.0,348.2 1548.0,349.9 1550.0,350.4 1554.0,350.8 1560.0,351.2 1566.0,351.7 1572.0,352.1 1578.0,352.6 1584.0,353.0 1590.0,353.5 1596.0,353.9 1602.0,354.4 1608.0,354.8 1614.0,355.3 1620.0,355.7 1626.0,356.2 1629.4,356.4 1632.0,357.0 1638.0,358.5 1644.0,359.9 1650.0,361.3 1656.0,362.7 1662.0,364.1 1668.0,365.5 1674.0,366.9 1680.0,368.3 1686.0,369.7 1692.0,371.1 1698.0,372.5 1704.0,373.9 1704.2,373.9 1710.0,373.1 1716.0,372.3 1722.0,371.5 1728.0,370.7 1734.0,370.0 1740.0,369.2 1746.0,368.5 1752.0,367.7 1758.0,367.0 1764.0,366.3 1770.0,365.5 1776.0,364.8 1782.0,364.0 1782.3,364.0 1788.0,364.9 1794.0,365.9 1800.0,366.9 1806.0,367.9 1812.0,368.9 1818.0,369.8 1824.0,370.8 1830.0,371.7 1836.0,372.7 1842.0,373.6 1848.0,374.6 1854.0,375.5 1858.7,376.3 1860.0,376.7 1866.0,378.5 1872.0,380.3 1878.0,382.1 1884.0,383.9 1890.0,385.7 1896.0,387.5 1902.0,389.2 1908.0,391.0 1914.0,392.8 1920.0,394.5 1926.0,396.3 1932.0,398.0 1938.0,399.8 1940.0,400.4 1944.0,401.6 1950.0,403.5 1956.0,405.3 1962.0,407.2 1968.0,409.0 1974.0,410.9 1978.0,412.1 1980.0,412.8 1986.0,414.9 1992.0,417.1 2000.0,419.9" fill="none" stroke-linejoin="round" stroke-linecap="butt" stroke="#C8900A" stroke-width="7"/>
<path d="M795.0,418.8C800.7,415.6 806.2,412.6 812.0,409.3C817.8,406.0 825.0,401.5 830.0,399.0C835.0,396.5 838.8,395.5 842.0,394.5C845.2,393.5 845.9,392.8 849.3,392.8C853.8,392.8 861.5,392.5 868.8,394.4C876.1,396.3 883.2,398.7 893.2,404.1C903.2,409.5 916.7,416.9 928.9,426.9C941.1,436.9 953.3,452.9 966.3,464.3C979.3,475.7 994.0,485.7 1007.0,495.2C1020.0,504.7 1035.6,515.8 1044.4,521.2C1051.0,525.2 1052.7,525.3 1060.0,527.8C1068.0,530.5 1077.3,534.7 1092.5,537.6C1108.8,540.7 1138.6,544.7 1157.6,546.5C1176.6,548.3 1188.7,548.6 1206.3,548.6C1223.9,548.6 1244.3,547.1 1263.3,546.5C1282.3,545.9 1305.0,545.7 1320.2,544.9C1335.4,544.1 1342.9,542.7 1354.3,541.6C1364.6,534.8 1374.2,528.2 1385.2,521.3C1396.2,514.4 1410.0,506.6 1420.0,500.2C1430.0,493.8 1433.4,490.5 1445.0,483.1C1460.0,473.5 1493.8,453.2 1510.1,442.4C1525.4,432.3 1531.8,426.5 1542.6,418.4C1553.4,410.3 1564.3,400.9 1575.1,393.9C1585.9,386.9 1598.1,380.7 1607.6,376.4C1617.1,372.1 1625.2,370.0 1632.0,368.3C1638.8,366.6 1642.0,366.4 1648.3,366.3C1654.6,366.2 1663.2,367.2 1670.0,368.0C1676.8,368.8 1683.3,369.8 1689.0,370.9C1694.7,372.0 1699.1,373.2 1704.2,374.4" fill="none" stroke-linejoin="round" stroke-linecap="butt" stroke="#C8900A" stroke-width="7.3"/>
<path d="M304.5,640.2C312.5,641.7 319.1,643.4 328.5,644.7C337.9,646.1 350.2,647.1 361.0,648.3C445.0,648.3 529.0,648.3 613.0,648.3C620.8,647.1 628.3,646.9 636.3,644.7C644.2,642.5 651.2,638.9 660.7,635.0C670.2,631.1 682.4,625.7 693.2,621.1C704.0,614.6 714.9,608.2 725.7,601.6C736.5,595.0 750.1,585.8 758.2,581.3C765.2,577.5 767.7,577.9 774.5,574.8C781.3,571.7 790.8,567.1 798.9,562.6C807.0,558.1 816.5,551.6 823.3,548.0C830.1,544.4 834.9,542.3 839.5,540.7C844.1,539.1 845.6,538.2 850.9,538.2C856.3,538.2 864.4,539.1 872.0,540.7C879.6,542.3 888.3,544.5 896.4,548.0C904.5,551.5 912.7,556.2 920.8,561.8C928.9,567.3 938.4,575.9 945.2,581.3C952.0,586.7 953.7,589.0 961.5,594.3C970.8,600.6 987.1,610.6 1000.7,619.2C1014.3,627.8 1028.8,637.1 1042.9,646.0C1050.5,646.8 1058.1,647.7 1065.7,648.5C1162.0,648.4 1258.2,648.4 1354.5,648.3C1368.9,639.6 1382.3,631.6 1397.6,622.3C1412.9,612.9 1432.8,600.9 1446.3,592.2C1459.8,583.5 1468.1,577.8 1478.9,570.2C1489.8,562.6 1502.7,553.1 1511.4,546.7C1520.1,540.3 1524.7,535.5 1530.9,532.0C1537.1,528.5 1542.8,527.7 1548.8,525.5C1558.0,519.8 1567.7,513.4 1576.4,508.5C1585.1,503.6 1592.7,499.8 1600.8,496.3C1608.9,492.8 1617.3,489.4 1625.2,487.3C1633.1,485.2 1640.4,483.9 1648.3,483.9C1656.2,483.9 1666.0,485.8 1672.7,487.2C1679.5,488.6 1683.4,490.1 1688.8,492.0C1694.2,493.9 1699.6,496.3 1705.0,498.5C1715.9,497.7 1725.4,497.1 1737.6,496.1C1749.8,495.2 1767.4,492.7 1778.2,492.8C1789.0,492.9 1791.8,494.3 1802.6,496.9C1813.4,499.5 1829.8,504.0 1843.3,508.3C1856.8,512.6 1869.0,517.8 1883.9,522.9C1898.8,528.0 1916.2,533.5 1932.7,539.2C1949.2,544.9 1968.9,552.9 1982.6,557.2C1996.3,561.6 2004.3,562.6 2015.1,565.3C2035.0,575.9 2054.8,586.4 2074.7,597.0C2081.3,608.8 2088.0,620.5 2094.6,632.3C2105.4,636.5 2117.4,642.3 2127.1,644.9C2136.8,647.5 2144.0,646.7 2152.5,647.6" fill="none" stroke-linejoin="round" stroke-linecap="butt" stroke="#5B3F6F" stroke-width="7.3"/>
<rect x="304.5" y="53.5" width="1848.0" height="873.0" fill="none" stroke="#212121" stroke-width="7" stroke-linejoin="round"/>
<polyline points="304.5,624 304.5,926.5 2152.5,926.5 2152.5,633.2" fill="none" stroke="#000" stroke-width="7" stroke-linejoin="round" stroke-linecap="butt"/>
<circle cx="304.5" cy="624" r="3.5" fill="#000"/>
<g stroke="#212121" stroke-width="7" stroke-linecap="round">
<path d="M308,778.3 L324.6,778.3 L326.2,780.1 L327.3,782.0 L326.2,783.6 L324.6,785.1 L308,785.1 Z" fill="#212121" stroke="none"/>
<path d="M308,632.8 L324.6,632.8 L326.2,634.6 L327.3,636.5 L326.2,638.1 L324.6,639.6 L308,639.6 Z" fill="#212121" stroke="none"/>
<path d="M308,487.3 L324.6,487.3 L326.2,489.1 L327.3,491.0 L326.2,492.6 L324.6,494.1 L308,494.1 Z" fill="#212121" stroke="none"/>
<path d="M308,341.8 L324.6,341.8 L326.2,343.6 L327.3,345.5 L326.2,347.1 L324.6,348.6 L308,348.6 Z" fill="#212121" stroke="none"/>
<path d="M308,196.3 L324.6,196.3 L326.2,198.1 L327.3,200.0 L326.2,201.6 L324.6,203.1 L308,203.1 Z" fill="#212121" stroke="none"/>
<line x1="520.5" y1="913.5" x2="520.5" y2="924.5"/>
<line x1="754.0" y1="913.5" x2="754.0" y2="924.5"/>
<line x1="987.5" y1="913.5" x2="987.5" y2="924.5"/>
<line x1="1221.0" y1="913.5" x2="1221.0" y2="924.5"/>
<line x1="1454.5" y1="913.5" x2="1454.5" y2="924.5"/>
<line x1="1688.0" y1="913.5" x2="1688.0" y2="924.5"/>
<line x1="1921.5" y1="913.5" x2="1921.5" y2="924.5"/>
</g>
<polyline points="304.5,506.7 382.7,527.6 537.2,541.5 616.0,527.6 693.3,490.7 732.5,462.2 771.4,434.0 810.0,407.0 835.0,390.3 851.0,381.6 868.0,374.4 929.3,352.9 1005.0,343.0 1080.5,334.4 1150.0,320.4 1237.0,304.5 1300.0,304.3 1348.5,304.9 1395.6,305.7 1472.0,323.8 1550.0,346.4 1629.4,352.8 1704.2,370.8 1782.3,361.1 1858.7,373.7 1940.0,398.6 1978.0,410.8 2014.5,424.3 2054.0,443.2 2094.1,462.8 2152.5,480.0" fill="none" stroke-linejoin="round" stroke-linecap="round" stroke="#FF7000" stroke-width="8.7"/>
<polyline points="304.5,506.7 382.7,527.6 537.2,541.5 616.0,527.6 693.3,490.7 732.5,462.2 771.4,434.0 810.0,407.0 835.0,390.3 851.0,381.6 868.0,374.4" fill="none" stroke-linejoin="round" stroke-linecap="round" stroke="#FF7000" stroke-width="9.5"/>
<polyline points="1704.2,370.8 1782.3,361.1 1858.7,373.7 1940.0,398.6 1978.0,410.8 2014.5,424.3 2054.0,443.2 2094.1,462.8 2152.5,480.0" fill="none" stroke-linejoin="round" stroke-linecap="round" stroke="#FF7000" stroke-width="9.5"/>
<line x1="696.8" y1="262" x2="831" y2="349.4" stroke="#000" stroke-width="7.2" stroke-linecap="round"/>
<path d="M868.6,375.3 L840.6,324.8 Q837.2,336.5 832.8,345.9 L828.8,352.4 Q821,361 812.1,367.9 Z" fill="#000"/>
<rect x="914.1" y="87.7" width="131.10" height="47.50" rx="1.8" fill="#C8900A"/><rect x="920.9" y="94.1" width="117.50" height="34.50" fill="#fff"/><rect x="920.9" y="94.1" width="117.50" height="34.50" fill="url(#hy)" shape-rendering="crispEdges"/>
<rect x="1280" y="89.05" width="129.90" height="46.85" rx="1.8" fill="#06566E"/><rect x="1286.4" y="95.4" width="117.00" height="33.50" fill="#fff"/><rect x="1286.4" y="95.4" width="117.00" height="33.50" fill="url(#hb)" shape-rendering="crispEdges"/>
<rect x="1676.2" y="87.0" width="130.80" height="47.05" rx="1.8" fill="#5B3F6F"/><rect x="1682.7" y="92.8" width="117.80" height="35.20" fill="#fff"/><rect x="1682.7" y="92.8" width="117.80" height="35.20" fill="url(#hp)" shape-rendering="crispEdges"/>
<g font-family="'Liberation Serif', serif" font-size="78.6px">
<g fill="#444" text-anchor="end">
<text transform="translate(288.6,92.0) scale(1,1.022)">6000</text>
<text transform="translate(288.5,234.6) scale(1,1.022)">5000</text>
<text transform="translate(288.5,380.2) scale(1,1.022)">4000</text>
<text transform="translate(288.5,523.4) scale(1,1.022)">3000</text>
<text transform="translate(288.5,666.6) scale(1,1.022)">2000</text>
<text transform="translate(288.5,811.3) scale(1,1.022)">1000</text>
<text transform="translate(286,954.4) scale(1,1.022)">0</text>
</g>
<g fill="#444" text-anchor="middle">
<text transform="translate(310.8,1006.2) scale(1,1.022)">0</text>
<text transform="translate(522.6,1006.2) scale(1,1.022)">3</text>
<text transform="translate(757.5,1006.2) scale(1,1.022)">6</text>
<text transform="translate(991.5,1006.2) scale(1,1.022)">9</text>
<text transform="translate(1223.5,1006.2) scale(1,1.022)">12</text>
<text transform="translate(1456.5,1006.2) scale(1,1.022)">15</text>
<text transform="translate(1689,1006.2) scale(1,1.022)">18</text>
<text transform="translate(1924,1006.2) scale(1,1.022)">21</text>
<text transform="translate(2156.5,1006.2) scale(1,1.022)">24</text>
</g>
<g fill="#000">
<text x="1226" y="1075.1" text-anchor="middle">Time (Hour)</text>
<text transform="translate(75.2,0) rotate(-90)"><tspan x="-1006.3" letter-spacing="-0.51">Energy </tspan><tspan x="-758.7" letter-spacing="-0.84">scheduling </tspan><tspan x="-407.3" letter-spacing="-0.1">result </tspan><tspan x="-212.1" letter-spacing="-0.38">(MW)</tspan></text>
<text x="425" y="246.2">Load dem<tspan dx="-2.2">a</tspan><tspan dx="-2.4">n</tspan>d</text>
<text y="143.3"><tspan x="1090">P</tspan><tspan x="1135">V</tspan><tspan x="1193">s</tspan></text>
<text y="141.8"><tspan x="1462">W</tspan><tspan x="1534">T</tspan><tspan x="1581.8">s</tspan></text>
<text y="137.4" font-size="83px"><tspan x="1844.9">G</tspan><tspan x="1905">s</tspan></text>
</g>
</g>
</svg>
</body>
</html>
